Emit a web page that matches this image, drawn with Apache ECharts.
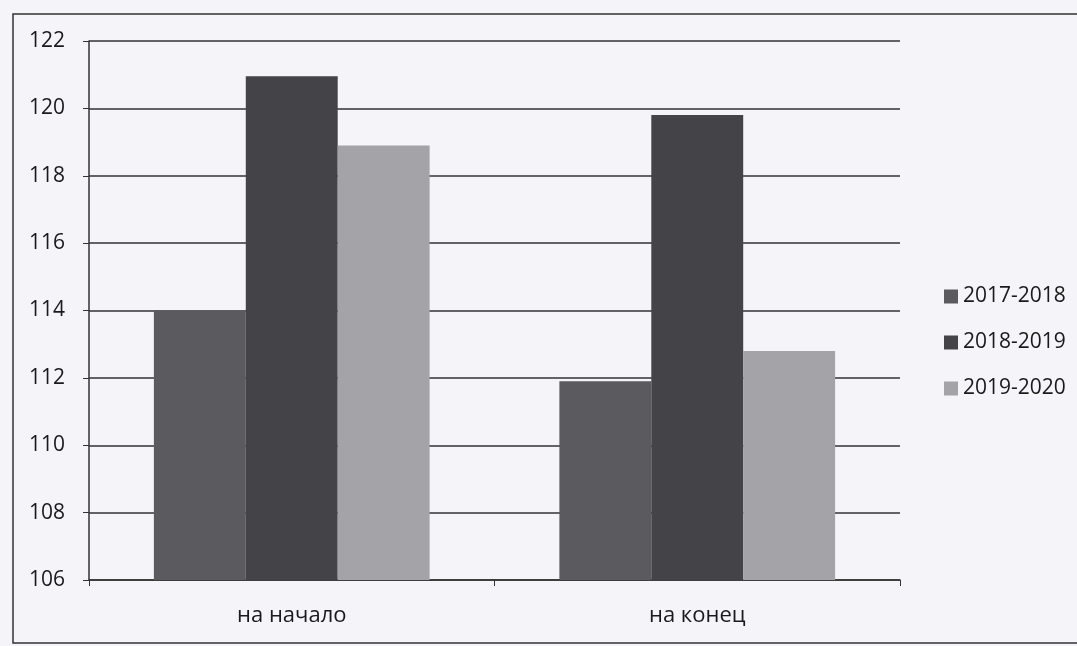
<!DOCTYPE html>
<html><head><meta charset="utf-8">
<script src="https://cdn.jsdelivr.net/npm/echarts@6/dist/echarts.min.js"></script>
<style>html,body{margin:0;padding:0;background:#f4f4f9;}#c{width:1077px;height:646px;}</style>
</head><body><div id="c"></div>
<script>
const categories = ['на начало', 'на конец'];
const seriesNames = ['2017-2018', '2018-2019', '2019-2020'];
const s2017 = [114.0, 111.9];
const s2018 = [120.95, 119.8];
const s2019 = [118.9, 112.8];
const colors = ['#5b5a5e', '#444347', '#a3a3a8'];

const chart = echarts.init(document.getElementById('c'));
const font = '"Open Sans", "Noto Sans", sans-serif';
chart.setOption({
  backgroundColor: '#f4f4f9',
  animation: false,
  graphic: [{
    type: 'rect', shape: {x: 13, y: 14, width: 1080, height: 629},
    style: {fill: 'none', stroke: '#333', lineWidth: 1.5}
  }],
  grid: {left: 89, right: 177, top: 41, bottom: 66},
  legend: {
    orient: 'vertical', left: 939, top: 281, itemGap: 25,
    itemWidth: 14, itemHeight: 14, icon: 'rect',
    textStyle: {fontFamily: font, fontSize: 21, color: '#1a1a1a'},
    data: seriesNames
  },
  xAxis: {
    type: 'category', data: categories,
    axisLine: {lineStyle: {color: '#333', width: 1.5}},
    axisTick: {show: true, length: 6, lineStyle: {color: '#333'}},
    axisLabel: {fontFamily: font, fontSize: 22, color: '#1a1a1a', margin: 25}
  },
  yAxis: {
    type: 'value', min: 106, max: 122, interval: 2,
    axisLine: {show: true, lineStyle: {color: '#333', width: 1.5}},
    axisTick: {show: true, length: 6, lineStyle: {color: '#333'}},
    axisLabel: {fontFamily: font, fontSize: 21, color: '#1a1a1a', margin: 24},
    splitLine: {lineStyle: {color: '#333', width: 1.5}}
  },
  series: [
    {name: seriesNames[0], type: 'bar', data: s2017, itemStyle: {color: colors[0]}, barGap: '0%', barCategoryGap: '32%'},
    {name: seriesNames[1], type: 'bar', data: s2018, itemStyle: {color: colors[1]}},
    {name: seriesNames[2], type: 'bar', data: s2019, itemStyle: {color: colors[2]}}
  ]
});
</script></body></html>
